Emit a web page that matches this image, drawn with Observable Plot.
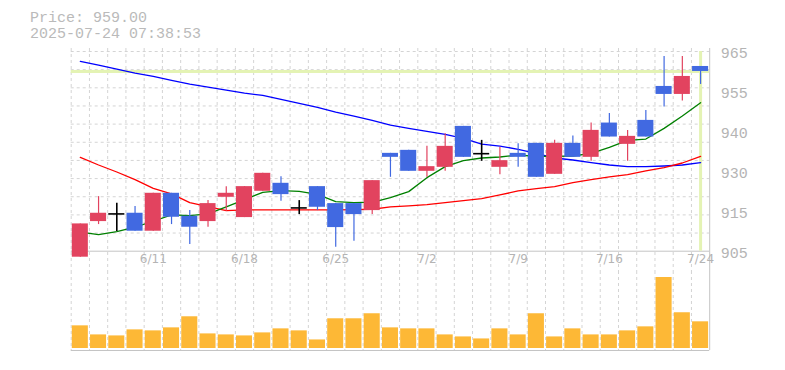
<!DOCTYPE html>
<html><head><meta charset="utf-8">
<script src="https://cdn.jsdelivr.net/npm/d3@7"></script>
<script src="https://cdn.jsdelivr.net/npm/@observablehq/plot@0.6"></script>
<style>
body{margin:0;background:#fff;width:785px;height:370px;overflow:hidden;position:relative;}
#price{position:absolute;left:0;top:0;}
#vol{position:absolute;left:0;top:271px;}
#hdr{position:absolute;left:30px;top:11px;z-index:5;color:#bababa;font-family:"Liberation Mono",monospace;font-size:15px;line-height:15.7px;white-space:pre;}
</style></head>
<body>
<div id="price"></div>
<div id="vol"></div>
<div id="hdr"></div>
<script>
const lastPrice = 959.00;
const stamp = "2025-07-24 07:38:53";

const dates = ["6/5","6/6","6/9","6/10","6/11","6/12","6/13","6/16","6/17","6/18","6/19","6/20","6/23","6/24","6/25","6/26","6/27","6/30",
  "7/1","7/2","7/3","7/4","7/7","7/8","7/9","7/10","7/11","7/14","7/15","7/16","7/17","7/18","7/22","7/23","7/24"];
const open  = [903.2,913.9,916.2,916.4,911.0,922.4,915.5,913.9,921.2,915.1,923.0,925.4,918.0,924.4,919.3,919.3,917.2,934.4,935.3,929.0,930.2,942.5,934.3,930.2,934.4,937.4,928.1,937.4,933.2,943.5,937.1,944.3,954.5,952.1,960.5];
const close = [913.2,916.4,916.2,911.0,922.4,915.2,912.2,919.3,922.4,924.4,928.4,922.0,918.0,918.2,912.1,916.0,926.2,933.2,929.0,930.4,936.5,933.2,934.3,932.2,933.2,927.2,937.4,933.2,941.3,939.3,939.5,939.3,952.1,957.5,959.0];
const high  = [913.2,921.4,919.4,918.4,922.4,922.4,917.2,920.2,924.4,924.4,928.4,927.4,920.2,924.4,919.3,919.3,926.2,934.4,935.3,936.5,940.3,942.5,938.3,936.2,937.3,937.4,938.3,939.6,943.5,946.4,941.3,947.3,963.5,963.5,960.5];
const low   = [903.2,913.0,910.9,911.0,911.0,913.0,907.0,912.2,917.0,915.1,923.0,920.0,916.0,917.2,906.2,908.0,916.0,927.2,929.0,927.2,929.0,933.2,932.0,928.0,930.2,927.2,928.1,933.2,932.0,939.3,932.0,939.3,948.3,950.1,955.1];
const ma5   = [910.7,910.0,910.9,912.2,914.0,915.9,915.7,916.2,918.3,920.5,922.7,923.2,923.0,922.1,919.9,919.6,919.7,921.1,922.9,927.1,930.4,932.2,933.0,933.3,933.9,933.5,933.5,933.6,934.4,936.2,938.3,938.7,941.9,945.6,949.6];
const ma25  = [933.2,930.9,928.8,926.5,923.9,922.2,919.6,918.4,917.2,917.4,917.4,917.4,917.4,917.4,917.4,917.5,917.6,918.3,918.6,919.0,919.6,920.2,920.8,921.9,923.1,923.8,924.4,925.6,926.5,927.3,928.0,929.1,930.1,931.5,933.5];
const ma75  = [962.0,960.9,959.7,958.5,957.5,956.3,955.2,954.3,953.4,952.5,951.8,950.6,949.4,948.2,946.8,945.6,944.3,942.9,941.9,941.0,940.1,938.9,937.2,936.6,935.6,934.4,933.0,932.4,931.6,930.9,930.4,930.4,930.6,930.9,931.6];
const volume = [45,27,25,37,35,41,63,29,27,25,31,39,35,17,59,59,69,41,39,39,27,23,19,39,27,69,23,39,27,27,35,43,141,71,53];

const yTicks = [905, 917, 929, 941, 953, 965];
const yTickLabels = ["905","915","930","940","955","965"];
const xTickDates = ["6/11","6/18","6/25","7/2","7/9","7/16","7/24"];

const rows = dates.map((d, i) => ({date: d, open: open[i], high: high[i], low: low[i], close: close[i],
  ma5: ma5[i], ma25: ma25[i], ma75: ma75[i], volume: volume[i]}));

const UP = "#e2435f", DOWN = "#4169e1", DOJI = "#000000";
const col = r => r.close > r.open ? UP : r.close < r.open ? DOWN : DOJI;

const W = 785, left = 70.7, right = 709.2;
const step = (right - left) / dates.length;
const lastDate = dates[dates.length - 1];
const yMin = 905, yMax = 965;
const yGrid = d3.range(1, 12).map(i => yMin + i * (yMax - yMin) / 11);
const xScale = () => ({type: "band", domain: dates, paddingInner: 0.12, paddingOuter: 0.06, round: false, axis: null});
const grid = {stroke: "#d4d4d4", strokeDasharray: "3,3", strokeWidth: 1};
const frameCol = "#c4c4c4";
const yellow = "#e4f3b4";
const txt = "#b4b4b4";

const price = Plot.plot({
  width: W, height: 271, marginLeft: left, marginRight: W - right, marginTop: 51, marginBottom: 20.3,
  x: xScale(), y: {domain: [yMin, yMax], axis: null},
  style: {background: "transparent", overflow: "visible"},
  marks: [
    Plot.ruleY(yGrid, grid),
    Plot.ruleX(dates, {x: d => d, dx: -step / 2, insetTop: -3, insetBottom: -20.3, ...grid}),
    Plot.ruleY([yMin], {stroke: frameCol}),
    Plot.ruleX([lastDate], {x: d => d, dx: step / 2, insetTop: -3, insetBottom: -20.3, stroke: frameCol}),
    Plot.ruleY([lastPrice], {stroke: yellow, strokeWidth: 3}),
    Plot.ruleX([lastDate], {x: d => d, stroke: yellow, strokeWidth: 3}),
    Plot.line(rows, {x: "date", y: "ma75", stroke: "#0000ff", strokeWidth: 1.3}),
    Plot.line(rows, {x: "date", y: "ma25", stroke: "#ff0000", strokeWidth: 1.3}),
    Plot.line(rows, {x: "date", y: "ma5", stroke: "#008000", strokeWidth: 1.3}),
    Plot.ruleX(rows, {x: "date", y1: "low", y2: "high", stroke: col, strokeWidth: r => r.close === r.open ? 1.6 : 1.2}),
    Plot.barY(rows.filter(r => r.close !== r.open), {x: "date", y1: "open", y2: "close", fill: col}),
    Plot.tickY(rows.filter(r => r.close === r.open), {x: "date", y: "close", stroke: DOJI, strokeWidth: 1.6}),
    Plot.text(yTicks, {y: d => d, text: (d, i) => yTickLabels[i], frameAnchor: "right", dx: 11, dy: 2, textAnchor: "start",
      fontSize: 15, fontFamily: "Liberation Mono", fill: txt}),
    Plot.text(xTickDates, {x: d => d, text: d => d, frameAnchor: "bottom", dy: 12, fontSize: 12, fontFamily: "DejaVu Sans", fill: txt})
  ]
});
document.getElementById("price").append(price);

const vol = Plot.plot({
  width: W, height: 99, marginLeft: left, marginRight: W - right, marginTop: 6, marginBottom: 22,
  x: xScale(), y: {domain: [0, 141], axis: null},
  style: {background: "transparent", overflow: "visible"},
  marks: [
    Plot.ruleX(dates, {x: d => d, dx: -step / 2, insetTop: -6, insetBottom: -2, ...grid}),
    Plot.barY(rows, {x: "date", y: "volume", fill: "#fdb836"}),
    Plot.ruleY([0], {dy: 2, stroke: frameCol}),
    Plot.ruleX([lastDate], {x: d => d, dx: step / 2, insetTop: -6, insetBottom: -2, stroke: frameCol})
  ]
});
document.getElementById("vol").append(vol);

document.getElementById("hdr").textContent = "Price: " + lastPrice.toFixed(2) + "\n" + stamp;
</script>
</body></html>
